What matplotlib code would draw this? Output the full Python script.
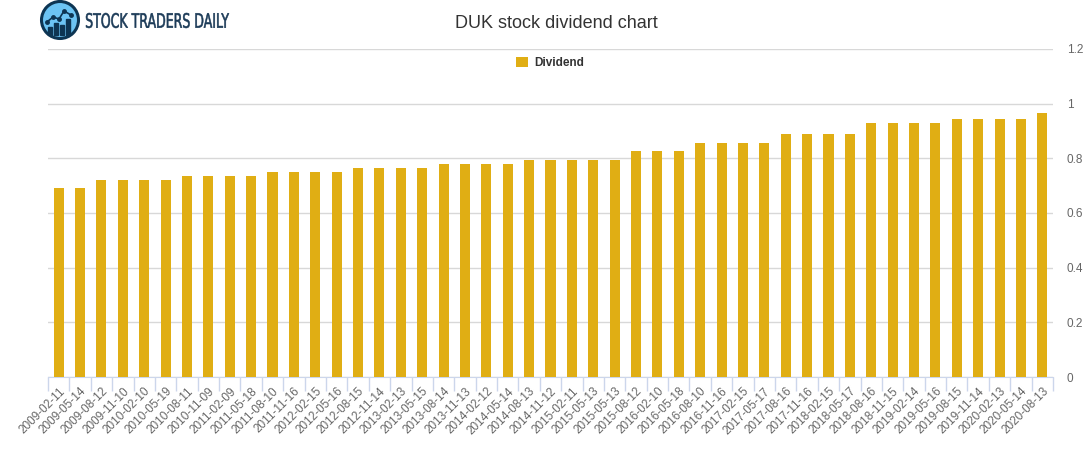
import matplotlib
matplotlib.use("Agg")
import matplotlib.pyplot as plt
import numpy as np
from matplotlib.patches import Circle, PathPatch, Rectangle
from matplotlib.textpath import TextPath
from matplotlib.font_manager import FontProperties
from matplotlib.transforms import Affine2D

plt.rcParams["font.family"] = ["Liberation Sans", "DejaVu Sans"]

dates = [
    "2009-02-11", "2009-05-14", "2009-08-12", "2009-11-10",
    "2010-02-10", "2010-05-19", "2010-08-11", "2010-11-09",
    "2011-02-09", "2011-05-18", "2011-08-10", "2011-11-16",
    "2012-02-15", "2012-05-16", "2012-08-15", "2012-11-14",
    "2013-02-13", "2013-05-15", "2013-08-14", "2013-11-13",
    "2014-02-12", "2014-05-14", "2014-08-13", "2014-11-12",
    "2015-02-11", "2015-05-13", "2015-05-13", "2015-08-12",
    "2016-02-10", "2016-05-18", "2016-08-10", "2016-11-16",
    "2017-02-15", "2017-05-17", "2017-08-16", "2017-11-16",
    "2018-02-15", "2018-05-17", "2018-08-16", "2018-11-15",
    "2019-02-14", "2019-05-16", "2019-08-15", "2019-11-14",
    "2020-02-13", "2020-05-14", "2020-08-13",
]
dividend = [
    0.69, 0.69, 0.72, 0.72,
    0.72, 0.72, 0.735, 0.735,
    0.735, 0.735, 0.75, 0.75,
    0.75, 0.75, 0.765, 0.765,
    0.765, 0.765, 0.78, 0.78,
    0.78, 0.78, 0.795, 0.795,
    0.795, 0.795, 0.795, 0.825,
    0.825, 0.825, 0.855, 0.855,
    0.855, 0.855, 0.89, 0.89,
    0.89, 0.89, 0.9275, 0.9275,
    0.9275, 0.9275, 0.945, 0.945,
    0.945, 0.945, 0.965,
]
y_ticks = [0, 0.2, 0.4, 0.6, 0.8, 1, 1.2]

W, H = 1091, 450
BAR = "#e0ae14"
fig = plt.figure(figsize=(W / 100, H / 100), dpi=100)

ax = fig.add_axes([48 / W, 1 - 377 / H, 1005 / W, 328 / H])
x = np.arange(len(dates))
bars = ax.bar(x, dividend, width=0.47, color=BAR, zorder=3, label="Dividend")
ax.set_xlim(-0.5, len(dates) - 0.5)
ax.set_ylim(0, 1.2)

ax.set_yticks(y_ticks)
ax.set_yticklabels([f"{v:g}" for v in y_ticks])
ax.yaxis.tick_right()
ax.tick_params(axis="y", length=0, pad=10, labelsize=8.5, labelcolor="#666666")
ax.grid(axis="y", color="#d8d8d8", linewidth=1, zorder=0)

ax.set_xticks(x)
ax.set_xticklabels(dates, rotation=45, ha="right", rotation_mode="anchor")
ax.tick_params(axis="x", length=0, pad=6, labelsize=8.5, labelcolor="#666666")
ax.set_xticks(np.arange(-0.5, len(dates)), minor=True)
ax.tick_params(axis="x", which="minor", length=10, color="#ccd6eb", width=1)

for s in ["top", "left", "right"]:
    ax.spines[s].set_visible(False)
ax.spines["bottom"].set_color("#ccd6eb")

fig.text(556 / W, 1 - 24 / H, "DUK stock dividend chart", ha="center", va="center",
         fontsize=13, color="#333333")
fig.legend(handles=[bars], loc="center", bbox_to_anchor=(550 / W, 1 - 63 / H),
           frameon=False, handlelength=1.0, handleheight=1.0, handletextpad=0.5,
           prop={"weight": "bold", "size": 8.5}, labelcolor="#333333")

# logo overlay in pixel coordinates
lg = fig.add_axes([0, 0, 1, 1], zorder=5)
lg.set_xlim(0, W)
lg.set_ylim(H, 0)
lg.axis("off")
lg.patch.set_alpha(0)
lg.add_patch(Circle((60, 20), 18.5, facecolor="#6cc4f4", edgecolor="#0d3553", linewidth=2.2))
for bx, bh in [(50, 8), (56, 12), (62, 10), (68, 16)]:
    lg.add_patch(Rectangle((bx - 2.2, 35 - bh), 4.4, bh, color="#0d3553"))
lg.plot([47, 53, 59, 64, 71], [22, 17, 19, 11, 15], color="#0d3553", lw=1.2)
lg.plot([47, 53, 59, 64, 71], [22, 17, 19, 11, 15], "o", color="#0d3553", ms=2.5)

tp = TextPath((0, 0), "STOCK TRADERS DAILY", size=10,
              prop=FontProperties(family="DejaVu Sans"))
bb = tp.get_extents()
sx = (229 - 86) / bb.width
sy = 15 / bb.height
tp = tp.transformed(Affine2D().translate(-bb.x0, -bb.y0).scale(sx, -sy).translate(86, 28))
lg.add_patch(PathPatch(tp, facecolor="#1b3a57", edgecolor="#1b3a57", linewidth=0.4))

fig.savefig("out.png", dpi=100)
